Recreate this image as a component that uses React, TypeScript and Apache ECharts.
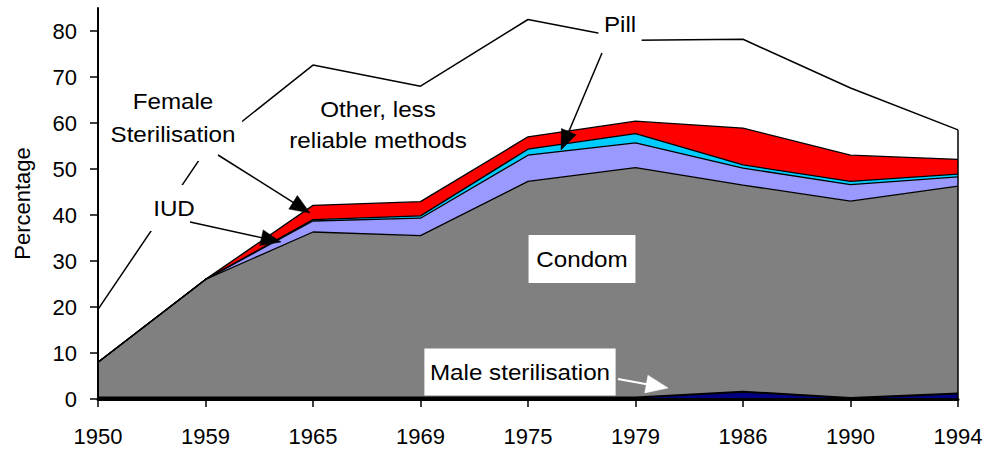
import React, { useEffect, useRef } from "react";
import * as echarts from "echarts";

// Categories and stacked increments (percentage points), bottom to top
const years = ["1950", "1959", "1965", "1969", "1975", "1979", "1986", "1990", "1994"];
const maleSterilisation = [0.3, 0.3, 0.3, 0.3, 0.3, 0.3, 1.6, 0.2, 1.2];
const condom = [7.7, 25.7, 36.0, 35.2, 47.0, 50.0, 44.9, 42.8, 45.1];
const iud = [0, 0, 2.4, 3.8, 5.7, 5.4, 3.7, 3.6, 2.0];
const femaleSterilisation = [0, 0, 0.3, 0.5, 1.3, 2.0, 0.7, 0.7, 0.6];
const pill = [0, 0, 3.1, 3.1, 2.7, 2.7, 8.0, 5.7, 3.2];
const otherMethods = [11.5, 28, 30.5, 25.1, 25.5, 17.6, 19.3, 14.6, 6.4];
const yTicks = [0, 10, 20, 30, 40, 50, 60, 70, 80];

const FONT = "'Liberation Sans', Arial, Helvetica, sans-serif";

function arrow(
  x1: number, y1: number, x2: number, y2: number,
  color: string, width: number, headLen: number, headHalf: number
) {
  const dx = x2 - x1;
  const dy = y2 - y1;
  const L = Math.hypot(dx, dy);
  const ux = dx / L;
  const uy = dy / L;
  const bx = x2 - ux * headLen;
  const by = y2 - uy * headLen;
  const px = -uy;
  const py = ux;
  return [
    { type: "line", z: 100, shape: { x1, y1, x2: bx + ux * 2, y2: by + uy * 2 }, style: { stroke: color, lineWidth: width } },
    {
      type: "polygon", z: 101,
      shape: { points: [[x2, y2], [bx + px * headHalf, by + py * headHalf], [bx - px * headHalf, by - py * headHalf]] },
      style: { fill: color, stroke: color, lineWidth: 0.5 },
    },
  ];
}

function label(text: string, x: number, y: number, lineHeight: number, padding: number[], bg: string | undefined) {
  return {
    type: "text", z: 100, x, y, scaleX: 1.1, scaleY: 1,
    style: {
      text, fontSize: 22, fontFamily: FONT, fill: "#000",
      align: "center", verticalAlign: "middle", lineHeight,
      backgroundColor: bg, padding,
    },
  };
}

export default function App() {
  const ref = useRef<HTMLDivElement>(null);
  useEffect(() => {
    if (!ref.current) return;
    const chart = echarts.init(ref.current, null, { renderer: "svg" });
    const last = years.length - 1;
    const total = maleSterilisation[last] + condom[last] + iud[last] + femaleSterilisation[last] + pill[last] + otherMethods[last];

    const layer = (name: string, data: number[], fill: string, lw = 1.3, extra: any = {}) => ({
      name, type: "line", stack: "total", stackStrategy: "all", data,
      symbol: "none", showSymbol: false, silent: true, clip: false,
      lineStyle: { color: "#000", width: lw },
      areaStyle: { color: fill, opacity: 1 },
      itemStyle: { color: fill },
      ...extra,
    });

    chart.setOption({
      animation: false,
      backgroundColor: "#fff",
      grid: { left: 98, right: 41, top: 8, bottom: 52, containLabel: false, outerBoundsMode: "none" },
      xAxis: {
        type: "category", data: years, boundaryGap: false, z: 10,
        axisLine: { show: true, lineStyle: { color: "#000", width: 3 } },
        axisTick: { show: true, length: 8, lineStyle: { color: "#000", width: 1.5 } },
        axisLabel: { color: "#000", fontSize: 22, fontFamily: FONT, margin: 26, interval: 0 },
        splitLine: { show: false },
      },
      yAxis: {
        type: "value", min: 0, max: 85, interval: 10, z: 10,
        name: "Percentage", nameLocation: "middle", nameRotate: 90, nameGap: 65,
        nameTextStyle: { color: "#000", fontSize: 22, fontFamily: FONT },
        axisLine: { show: true, lineStyle: { color: "#000", width: 2 } },
        axisTick: { show: true, length: 8, customValues: yTicks, lineStyle: { color: "#000", width: 1.5 } },
        axisLabel: { color: "#000", fontSize: 22, fontFamily: FONT, margin: 21, customValues: yTicks },
        splitLine: { show: false },
      },
      series: [
        layer("Male sterilisation", maleSterilisation, "#000080", 2),
        layer("Condom", condom, "#808080"),
        layer("IUD", iud, "#9999FF"),
        layer("Female Sterilisation", femaleSterilisation, "#00CCFF"),
        layer("Pill", pill, "#FF0000"),
        layer("Other, less reliable methods", otherMethods, "#FFFFFF", 1.5, {
          markLine: {
            silent: true, symbol: ["none", "none"], label: { show: false },
            lineStyle: { color: "#000", width: 1.5, type: "solid" },
            data: [[{ coord: [years[last], 0] }, { coord: [years[last], total] }]],
          },
        }),
      ],
      graphic: [
        label("Female\nSterilisation", 173, 118, 33, [10, 6], "#fff"),
        label("IUD", 174, 208, 26, [10, 6], "#fff"),
        label("Other, less\nreliable methods", 378, 125, 31, [2, 2], undefined),
        label("Pill", 620, 24, 24, [16, 5], "#fff"),
        label("Condom", 582, 259, 24, [6, 7, 18, 7], "#fff"),
        label("Male sterilisation", 520, 372, 24, [7, 5, 16, 5], "#fff"),
        ...arrow(218, 155, 310, 213, "#000", 1.5, 20, 8),
        ...arrow(190, 222, 281, 242, "#000", 1.5, 20, 8),
        ...arrow(602, 53, 561, 150, "#000", 1.5, 20, 8),
        ...arrow(618, 379, 668, 388, "#fff", 2, 22, 9),
      ],
    });
    return () => chart.dispose();
  }, []);
  return <div ref={ref} style={{ position: "fixed", left: 0, top: 0, width: 999, height: 451 }} />;
}
